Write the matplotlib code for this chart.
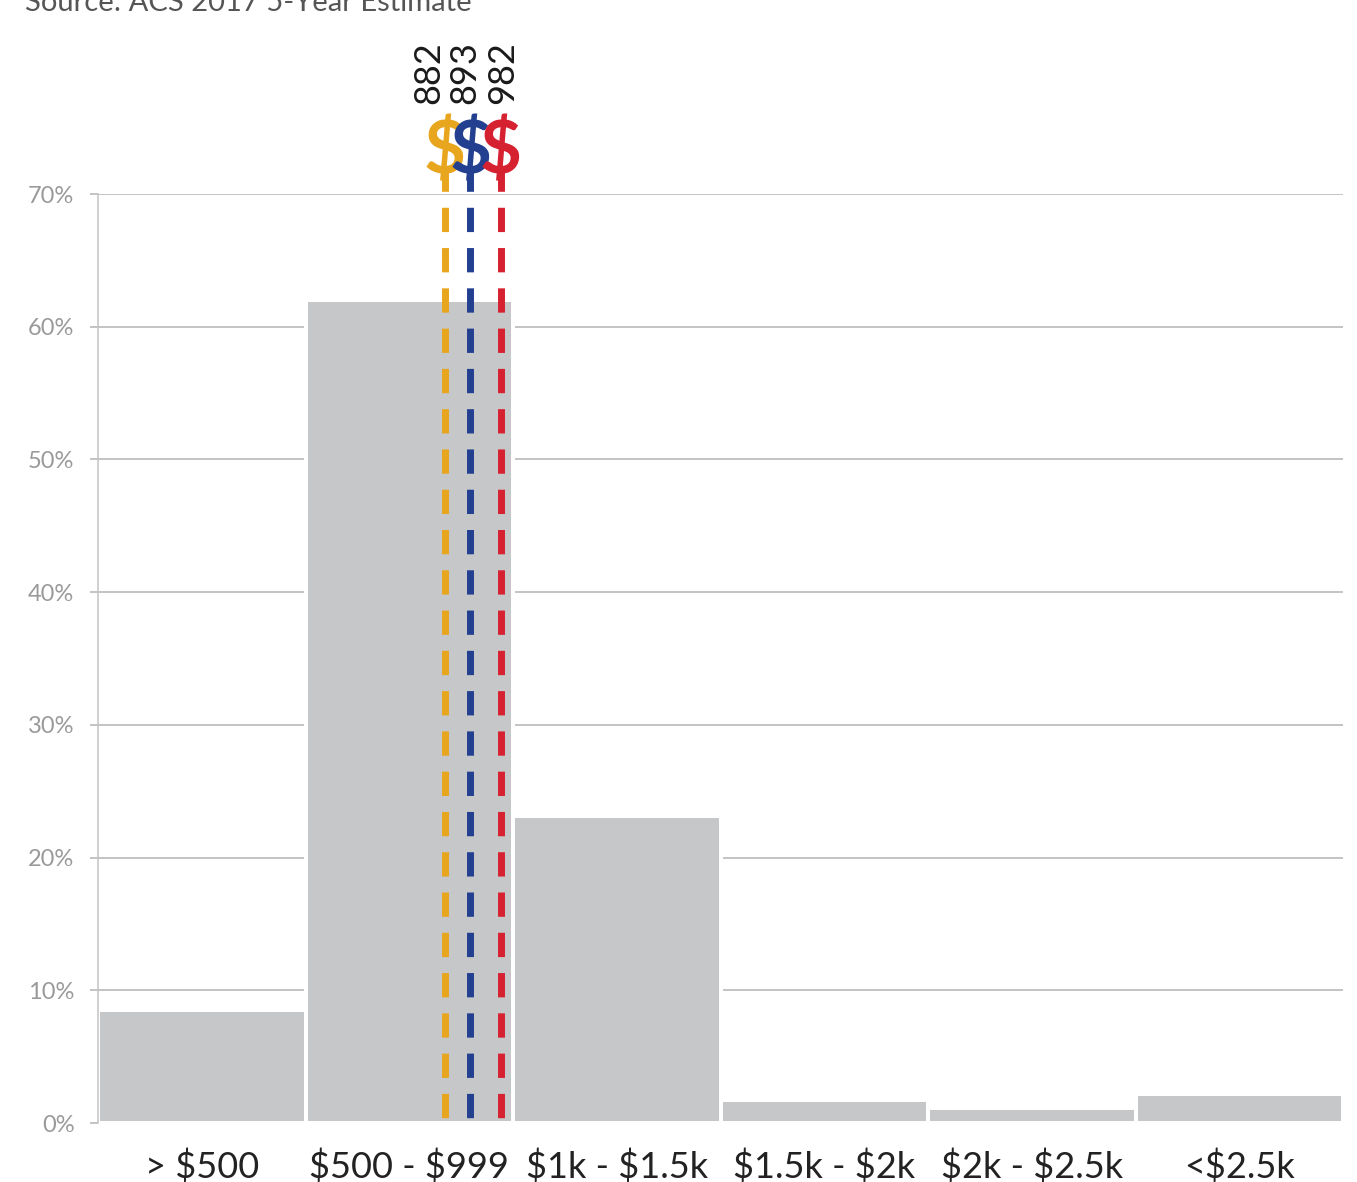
import matplotlib.pyplot as plt

plt.rcParams['font.family'] = ['Lato', 'DejaVu Sans']
plt.rcParams['text.parse_math'] = False

# rent brackets and share of renter households (%)
rent_bins = ['> $500', '$500 - $999', '$1k - $1.5k', '$1.5k - $2k', '$2k - $2.5k', '<$2.5k']
shares = [8.5, 62.0, 23.1, 1.7, 1.1, 2.2]

# median rents marked on the chart
median_rents = [882, 893, 982]
median_colors = ['#e8a61e', '#233f8f', '#d62130']
median_x = [1.172, 1.293, 1.442]      # placement inside the $500 - $999 bar
label_dx = [-12, -4, 1.5]             # nudge for the rotated numbers (points)

W, H = 1357, 1182
fig = plt.figure(figsize=(W / 100, H / 100), dpi=100)
ax = fig.add_axes([98 / W, 59 / H, 1245 / W, 929 / H])

ax.bar(range(len(shares)), shares, width=1.0, color='#c6c7c9',
       edgecolor='white', linewidth=2.9, zorder=2)

ax.set_xlim(-0.5, 5.5)
ax.set_ylim(0, 70)
ax.set_yticks(range(0, 71, 10))
ax.set_yticklabels([f'{v}%' for v in range(0, 71, 10)])
ax.set_xticks(range(len(rent_bins)))
ax.set_xticklabels(rent_bins)

ax.yaxis.grid(True, color='#b3b3b3', linewidth=1.1, zorder=0)
ax.set_axisbelow(True)
for side in ['top', 'right', 'bottom']:
    ax.spines[side].set_visible(False)
ax.spines['left'].set_color('#c4c4c4')
ax.spines['left'].set_linewidth(1.1)
ax.spines['left'].set_zorder(5)

ax.tick_params(axis='y', length=6, width=1.1, color='#b3b3b3', pad=11,
               labelsize=17, labelcolor='#9a9a9a')
ax.tick_params(axis='x', length=0, pad=19, labelsize=26, labelcolor='#222222')

# dashed median lines with a $ marker and the value on top
for v, c, x, dx in zip(median_rents, median_colors, median_x, label_dx):
    ax.plot([x, x], [72.0, 0], color=c, linewidth=5, linestyle=(0, (3.5, 2.3)),
            dash_capstyle='butt', clip_on=False, zorder=3)
    ax.text(x, 73.1, '$', color=c, fontsize=52, fontweight='bold',
            ha='center', va='center', clip_on=False, zorder=4)
    ax.annotate(str(v), xy=(x, 76.8), xytext=(dx, 0), textcoords='offset points',
                rotation=90, ha='center', va='bottom', fontsize=26,
                color='#1a1a1a', annotation_clip=False)

fig.text(25 / W, 1 - 11 / H, 'Source: ACS 2017 5-Year Estimate', fontsize=21,
         color='#555555', ha='left', va='baseline')

fig.savefig('out.png', dpi=100)
